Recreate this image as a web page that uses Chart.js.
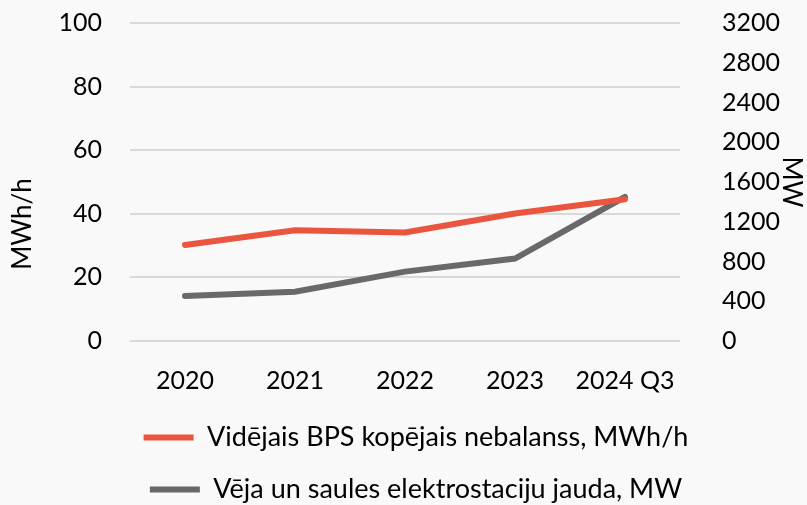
<!DOCTYPE html>
<html>
<head>
<meta charset="utf-8">
<script src="https://cdn.jsdelivr.net/npm/chart.js@4.4.1/dist/chart.umd.min.js"></script>
<style>
	html, body { margin: 0; padding: 0; background: #f9f9fa; }
	#wrap { width: 807px; height: 505px; }
</style>
</head>
<body>
<div id="wrap"><canvas id="chart" width="807" height="505"></canvas></div>
<script>
	var years = ["2020", "2021", "2022", "2023", "2024 Q3"];
	var imbalance = [30.2, 34.8, 34.1, 40.1, 44.6];
	var capacity = [453, 495, 698, 830, 1450];
	var leftTicks = [0, 20, 40, 60, 80, 100];
	var rightTicks = [0, 400, 800, 1200, 1600, 2000, 2400, 2800, 3200];

	var font = "Lato, 'Open Sans', sans-serif";

	// left title sits lower than the centre of the plot, draw it by hand
	var leftTitle = {
		id: "leftTitle",
		afterDraw: function(chart) {
			var ctx = chart.ctx;
			ctx.save();
			ctx.translate(23, 224);
			ctx.rotate(-Math.PI / 2);
			ctx.font = "26px " + font;
			ctx.fillStyle = "#000";
			ctx.textAlign = "center";
			ctx.textBaseline = "middle";
			ctx.fillText("MWh/h", 0, 0);
			ctx.restore();
		}
	};

	// keep the plot edges where the reference has them
	function fitY(w) {
		return function(s) {
			s.width = w;
			s.paddingTop = 23;
			s.paddingBottom = 0;
		};
	}

	new Chart(document.getElementById("chart"), {
		type: "line",
		data: {
			labels: years,
			datasets: [{
				label: "Vidējais BPS kopējais nebalanss, MWh/h",
				data: imbalance,
				yAxisID: "y",
				borderColor: "#e9553f",
				backgroundColor: "#e9553f",
				borderWidth: 6,
				borderCapStyle: "round",
				pointRadius: 0,
				pointStyle: "line",
				tension: 0
			}, {
				label: "Vēja un saules elektrostaciju jauda, MW",
				data: capacity,
				yAxisID: "y1",
				borderColor: "#696969",
				backgroundColor: "#696969",
				borderWidth: 6,
				borderCapStyle: "round",
				pointRadius: 0,
				pointStyle: "line",
				tension: 0
			}]
		},
		options: {
			responsive: false,
			animation: false,
			layout: { padding: { top: 0, left: 25, bottom: -8 } },
			plugins: {
				tooltip: { enabled: false },
				legend: {
					position: "bottom",
					labels: {
						usePointStyle: true,
						pointStyleWidth: 50,
						color: "#000",
						padding: 25,
						font: { family: font, size: 27 }
					}
				}
			},
			scales: {
				x: {
					offset: true,
					grid: { display: false, drawTicks: false },
					border: { display: false },
					ticks: { color: "#000", padding: 25, maxRotation: 0, font: { family: font, size: 25 } },
					afterFit: function(s) { s.height = 58; }
				},
				y: {
					position: "left",
					min: 0,
					max: 100,
					afterBuildTicks: function(s) { s.ticks = leftTicks.map(function(v) { return { value: v }; }); },
					grid: { color: "#d9d9d9", lineWidth: 2, drawTicks: false },
					border: { display: false },
					ticks: { color: "#000", padding: 28, font: { family: font, size: 25 } },
					afterFit: fitY(105)
				},
				y1: {
					position: "right",
					min: 0,
					max: 3200,
					afterBuildTicks: function(s) { s.ticks = rightTicks.map(function(v) { return { value: v }; }); },
					grid: { display: false, drawTicks: false },
					border: { display: false },
					ticks: {
						color: "#000",
						padding: 42,
						font: { family: font, size: 25 },
						callback: function(v) { return String(v); }
					},
					title: { display: true, text: "MW", color: "#000", padding: { top: 0 }, font: { family: font, size: 26 } },
					afterFit: fitY(127)
				}
			}
		},
		plugins: [leftTitle]
	});
</script>
</body>
</html>
